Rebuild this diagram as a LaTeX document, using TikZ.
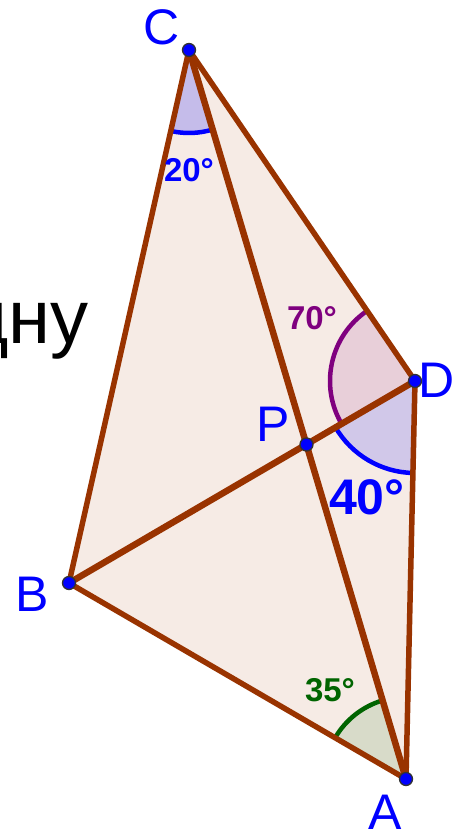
\documentclass[tikz,border=0pt]{standalone}
\usepackage{fontspec}
\setmainfont{Liberation Sans}
\usetikzlibrary{positioning}
\definecolor{seg}{RGB}{153,51,0}
\definecolor{quadfill}{RGB}{246,235,229}
\definecolor{ptblue}{RGB}{0,0,255}
\definecolor{angpurple}{RGB}{127,0,127}
\definecolor{anggreen}{RGB}{0,100,0}
\begin{document}
\begin{tikzpicture}[
  x=1pt, y=-1pt,
  side/.style={draw=seg, line width=5.5pt, line cap=round},
  diag/.style={draw=seg, line width=6.5pt, line cap=round},
  pt/.style={circle, fill=ptblue, draw=black!80, line width=1.3pt, minimum size=13pt, inner sep=0pt},
  ptlbl/.style={text=ptblue, font=\fontsize{50}{60}\selectfont, inner sep=0pt},
  anglbl/.style={font=\bfseries\fontsize{33}{40}\selectfont, inner sep=0pt},
  arcline/.style={line width=4.5pt}
]
\useasboundingbox (0,0) rectangle (454,833);
\coordinate (C) at (189,50);
\coordinate (D) at (415,381);
\coordinate (B) at (69,583);
\coordinate (A) at (406,779);
\coordinate (P) at (306.5,444.5);
% filled quadrilateral
\fill[quadfill] (C) -- (D) -- (A) -- (B) -- cycle;
% angle sectors
\fill[ptblue!20!quadfill] (C) -- ++(73.4:83) arc[start angle=73.4, end angle=102.7, radius=83] -- cycle;
\fill[angpurple!12!quadfill] (D) -- ++(149.7:85) arc[start angle=149.7, end angle=235.7, radius=85] -- cycle;
\fill[ptblue!15!quadfill] (D) -- ++(91.3:92) arc[start angle=91.3, end angle=149.7, radius=92] -- cycle;
\fill[anggreen!12!quadfill] (A) -- ++(210.2:82) arc[start angle=210.2, end angle=253.4, radius=82] -- cycle;
\draw[arcline, ptblue] (C) ++(73.4:83) arc[start angle=73.4, end angle=102.7, radius=83];
\draw[arcline, angpurple] (D) ++(149.7:85) arc[start angle=149.7, end angle=235.7, radius=85];
\draw[arcline, ptblue] (D) ++(91.3:92) arc[start angle=91.3, end angle=149.7, radius=92];
\draw[arcline, anggreen] (A) ++(210.2:82) arc[start angle=210.2, end angle=253.4, radius=82];
% sides and diagonals
\draw[side] (C) -- (D);
\draw[side] (D) -- (A);
\draw[side] (A) -- (B);
\draw[side] (B) -- (C);
\draw[diag] (C) -- (A);
\draw[diag] (B) -- (D);
% points
\node[pt] (nC) at (C) {};
\node[pt] (nD) at (D) {};
\node[pt] (nB) at (B) {};
\node[pt] (nA) at (A) {};
\node[pt] (nP) at (P) {};
\node[ptlbl] (lC) at (162,27) {C};
\node[ptlbl] (lD) at (437,380) {D};
\node[ptlbl] (lB) at (32,594) {B};
\node[ptlbl] (lA) at (385,812) {A};
\node[ptlbl] (lP) at (273,424) {P};
% angle labels
\node[anglbl, text=ptblue] (a20) at (189,170) {20°};
\node[anglbl, text=angpurple] (a70) at (312,318) {70°};
\node[anglbl, text=ptblue, font=\bfseries\fontsize{50}{60}\selectfont] (a40) at (367,497) {40°};
\node[anglbl, text=anggreen] (a35) at (330,690) {35°};
% cut text at left
\node[font=\fontsize{76}{84}\selectfont, inner sep=0pt, anchor=base east] (word) at (89,343) {дну};
\end{tikzpicture}
\end{document}
